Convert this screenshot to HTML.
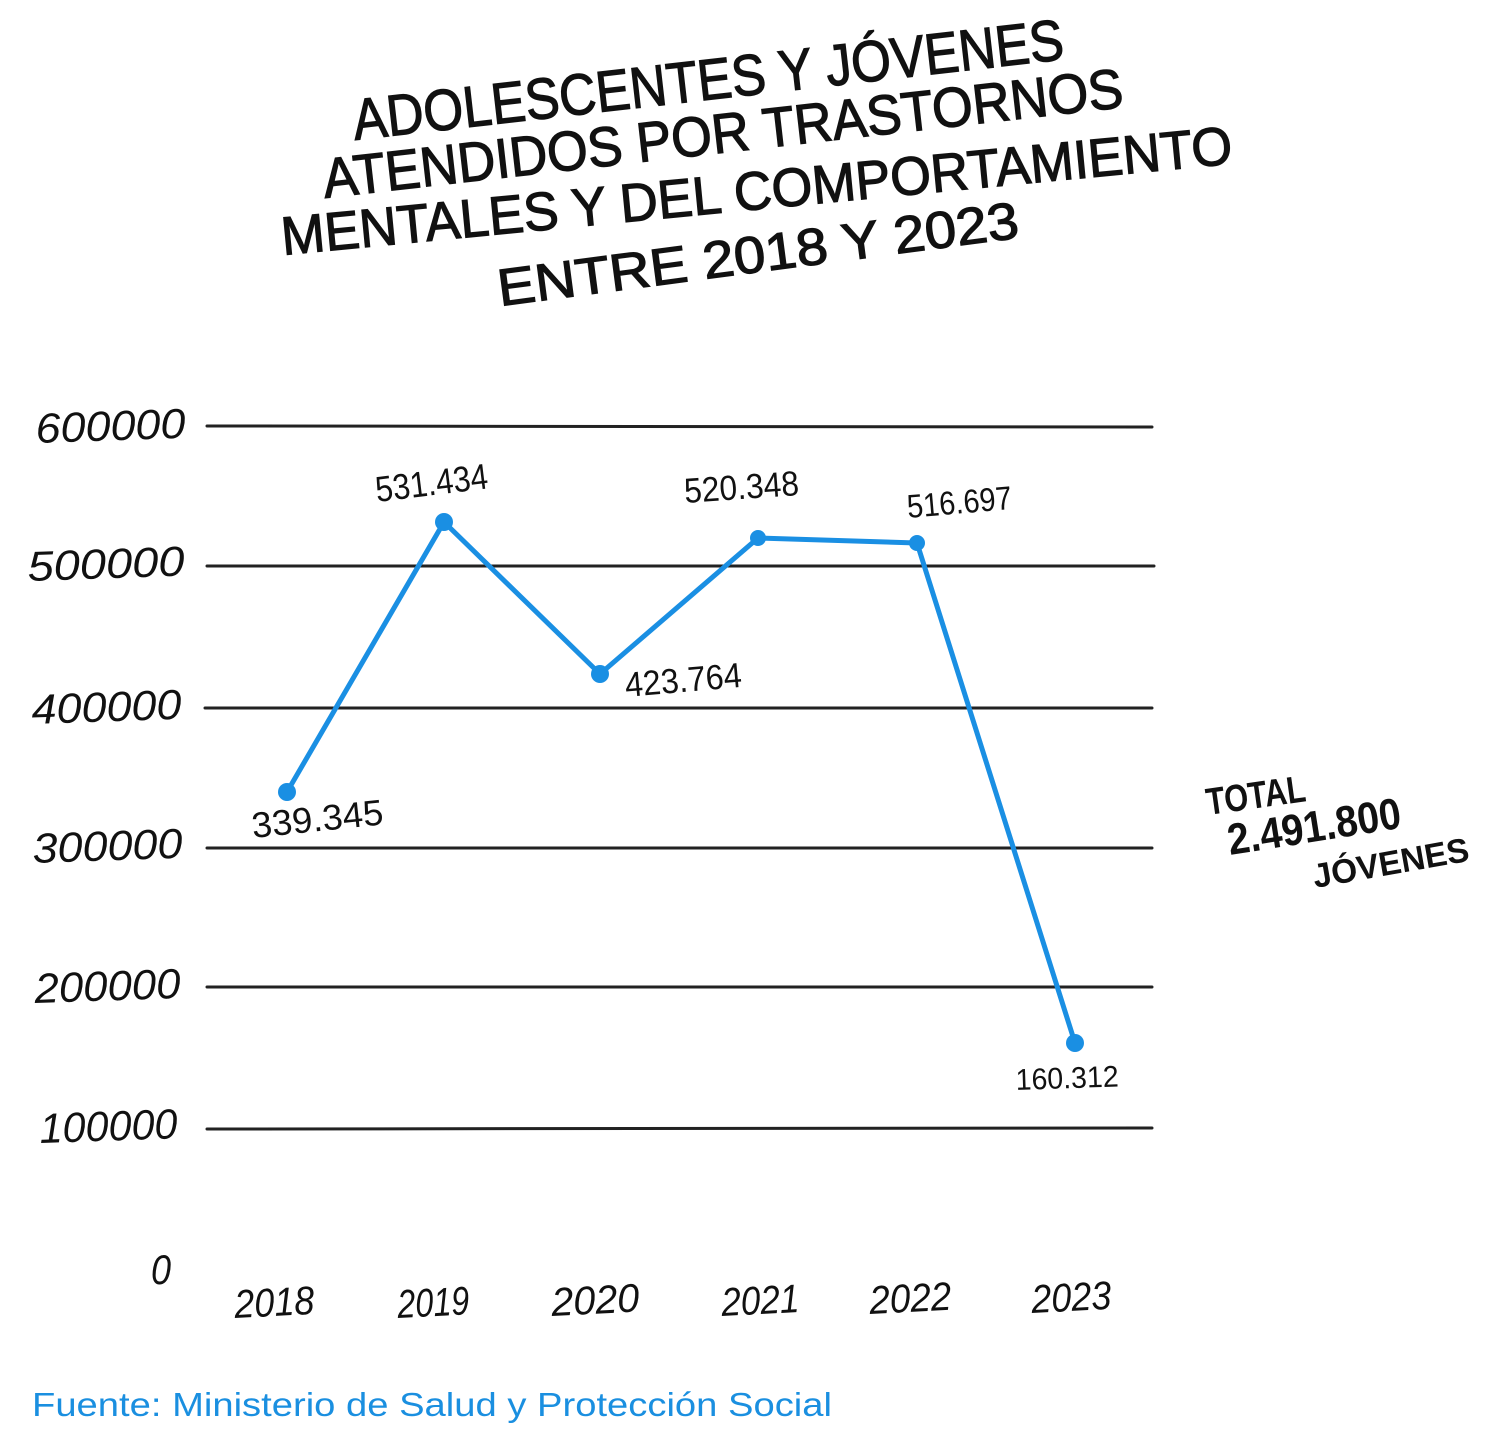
<!DOCTYPE html>
<html>
<head>
<meta charset="utf-8">
<style>
html,body{margin:0;padding:0;background:#fff;}
svg{display:block;}
.hw{font-family:"Liberation Sans",sans-serif;fill:#111;}
.ax{font-family:"Liberation Sans",sans-serif;font-style:italic;fill:#111;}
</style>
</head>
<body>
<svg width="1495" height="1441" viewBox="0 0 1495 1441" xmlns="http://www.w3.org/2000/svg">
<rect width="1495" height="1441" fill="#fff"/>

<!-- Title -->
<g class="hw" stroke="#111" stroke-width="1.2">
  <text x="355" y="140" font-size="58" textLength="715" lengthAdjust="spacingAndGlyphs" transform="rotate(-6.5 355 140)">ADOLESCENTES Y JÓVENES</text>
  <text x="325" y="198" font-size="56" textLength="805" lengthAdjust="spacingAndGlyphs" transform="rotate(-6.5 325 198)">ATENDIDOS POR TRASTORNOS</text>
  <text x="283" y="255" font-size="54" textLength="955" lengthAdjust="spacingAndGlyphs" transform="rotate(-5.5 283 255)">MENTALES Y DEL COMPORTAMIENTO</text>
  <text x="500" y="306" font-size="52" textLength="525" lengthAdjust="spacingAndGlyphs" transform="rotate(-7.5 500 306)">ENTRE 2018 Y 2023</text>
</g>

<!-- Gridlines -->
<g stroke="#222" stroke-width="3" stroke-linecap="round">
  <line x1="207" y1="426" x2="1152" y2="427"/>
  <line x1="207" y1="566" x2="1154" y2="566"/>
  <line x1="205" y1="708" x2="1152" y2="708"/>
  <line x1="207" y1="848" x2="1152" y2="848"/>
  <line x1="207" y1="987" x2="1152" y2="987"/>
  <line x1="207" y1="1129" x2="1152" y2="1128"/>
</g>

<!-- Y labels -->
<g class="ax" font-size="42">
  <text x="36" y="443" textLength="150" lengthAdjust="spacingAndGlyphs" transform="rotate(-2 36 443)">600000</text>
  <text x="28" y="581" textLength="157" lengthAdjust="spacingAndGlyphs" transform="rotate(-2 28 581)">500000</text>
  <text x="32" y="724" textLength="150" lengthAdjust="spacingAndGlyphs" transform="rotate(-2 32 724)">400000</text>
  <text x="33" y="863" textLength="150" lengthAdjust="spacingAndGlyphs" transform="rotate(-2 33 863)">300000</text>
  <text x="35" y="1003" textLength="146" lengthAdjust="spacingAndGlyphs" transform="rotate(-2 35 1003)">200000</text>
  <text x="40" y="1143" textLength="138" lengthAdjust="spacingAndGlyphs" transform="rotate(-2 40 1143)">100000</text>
  <text x="151" y="1284" textLength="20" lengthAdjust="spacingAndGlyphs">0</text>
</g>

<!-- X labels -->
<g class="ax" font-size="40">
  <text x="235" y="1318" textLength="80" lengthAdjust="spacingAndGlyphs" transform="rotate(-3 235 1318)">2018</text>
  <text x="398" y="1318" textLength="72" lengthAdjust="spacingAndGlyphs" transform="rotate(-3 398 1318)">2019</text>
  <text x="552" y="1316" textLength="88" lengthAdjust="spacingAndGlyphs" transform="rotate(-3 552 1316)">2020</text>
  <text x="722" y="1316" textLength="78" lengthAdjust="spacingAndGlyphs" transform="rotate(-3 722 1316)">2021</text>
  <text x="870" y="1314" textLength="82" lengthAdjust="spacingAndGlyphs" transform="rotate(-3 870 1314)">2022</text>
  <text x="1032" y="1313" textLength="80" lengthAdjust="spacingAndGlyphs" transform="rotate(-3 1032 1313)">2023</text>
</g>

<!-- Series -->
<polyline points="287,792 444,522 600,674 758,538 917,543 1075,1043" fill="none" stroke="#1a8fe3" stroke-width="5" stroke-linejoin="round" stroke-linecap="round"/>
<g fill="#1a8fe3">
  <circle cx="287" cy="792" r="9"/>
  <circle cx="444" cy="522" r="9"/>
  <circle cx="600" cy="674" r="9"/>
  <circle cx="758" cy="538" r="8"/>
  <circle cx="917" cy="543" r="8"/>
  <circle cx="1075" cy="1043" r="9"/>
</g>

<!-- Data labels -->
<g class="hw">
  <text x="253" y="838" font-size="36" textLength="132" lengthAdjust="spacingAndGlyphs" transform="rotate(-6 253 838)">339.345</text>
  <text x="377" y="502" font-size="36" textLength="113" lengthAdjust="spacingAndGlyphs" transform="rotate(-7 377 502)">531.434</text>
  <text x="626" y="697" font-size="35" textLength="117" lengthAdjust="spacingAndGlyphs" transform="rotate(-5 626 697)">423.764</text>
  <text x="685" y="503" font-size="35" textLength="115" lengthAdjust="spacingAndGlyphs" transform="rotate(-4 685 503)">520.348</text>
  <text x="908" y="518" font-size="33" textLength="105" lengthAdjust="spacingAndGlyphs" transform="rotate(-5 908 518)">516.697</text>
  <text x="1016" y="1090" font-size="30" textLength="103" lengthAdjust="spacingAndGlyphs" transform="rotate(-2 1016 1090)">160.312</text>
</g>

<!-- Total annotation -->
<g class="hw" font-weight="bold">
  <text x="1208" y="815" font-size="38" textLength="100" lengthAdjust="spacingAndGlyphs" transform="rotate(-8 1208 815)">TOTAL</text>
  <text x="1230" y="855" font-size="44" textLength="175" lengthAdjust="spacingAndGlyphs" transform="rotate(-9 1230 855)">2.491.800</text>
  <text x="1315" y="888" font-size="34" textLength="158" lengthAdjust="spacingAndGlyphs" transform="rotate(-10 1315 888)">JÓVENES</text>
</g>

<!-- Source -->
<text x="32" y="1416" font-family="Liberation Sans, sans-serif" font-size="33" fill="#1a8fe0" textLength="800" lengthAdjust="spacingAndGlyphs">Fuente: Ministerio de Salud y Protección Social</text>
</svg>
</body>
</html>
